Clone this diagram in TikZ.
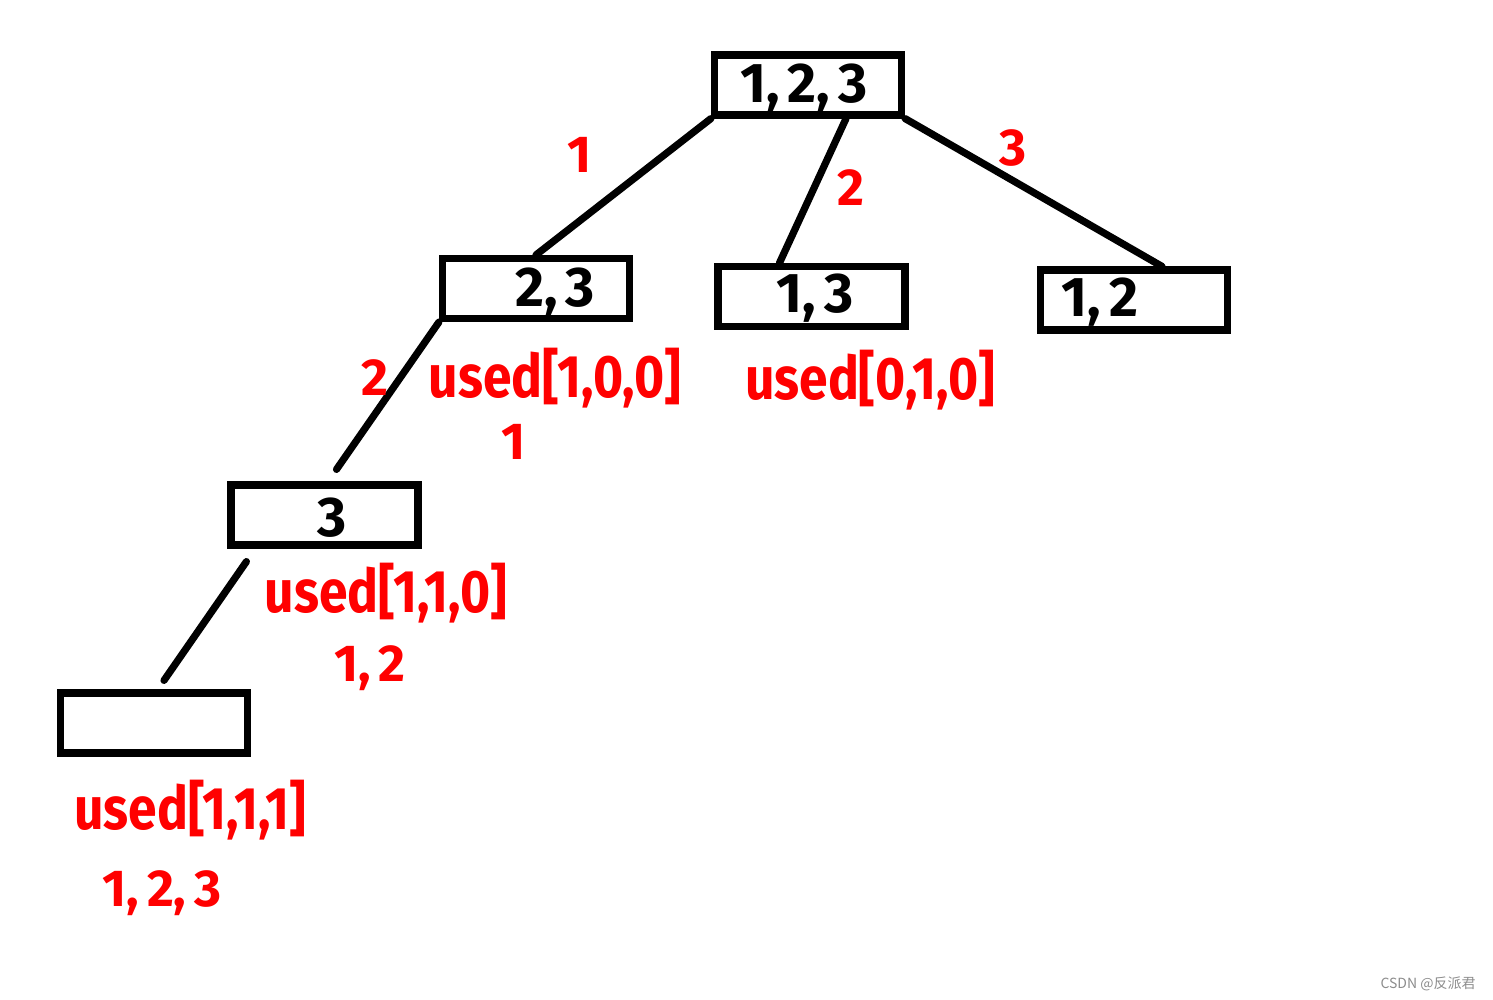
\documentclass[tikz,border=0pt]{standalone}
\usepackage{fontspec}
\setmainfont{Fira Sans}
\newfontfamily\cjk{Noto Sans CJK SC}
\usetikzlibrary{calc}
\tikzset{
  tbox/.style={draw=black, line width=3.6pt, minimum width=93.5pt, minimum height=30pt, inner sep=0pt},
  edge/.style={draw=black, line width=3.6pt, line cap=round},
  btext/.style={font=\fontsize{28}{30}\selectfont\bfseries, text=black, inner sep=0pt},
  rtext/.style={font=\fontsize{30}{32}\selectfont\bfseries, text=red, inner sep=0pt},
  rnum/.style={font=\fontsize{26}{28}\selectfont\bfseries, text=red, inner sep=0pt},
}
\newcommand{\narrow}[1]{\scalebox{0.86}[1]{#1}}
\newcommand{\cm}{,\hspace{4pt}}
\begin{document}
\begin{tikzpicture}[x=0.5pt,y=-0.5pt]
\useasboundingbox (0,0) rectangle (1493,1000);
% boxes
\node[tbox] (root) at (808,85) {};
\node[tbox] (A) at (536,288.5) {};
\node[tbox] (B) at (811.5,296.5) {};
\node[tbox] (C) at (1134,300) {};
\node[tbox] (D) at (324.5,515) {};
\node[tbox] (E) at (154,723) {};
% box texts
\node[btext] (troot) at (804,88) {1\cm2\cm3};
\node[btext] (tA) at (555,292) {2\cm3};
\node[btext] (tB) at (815,298) {1\cm3};
\node[btext] (tC) at (1100,302) {1\cm2};
\node[btext] (tD) at (332,518) {3};
% edges
\draw[edge] (root.south west) -- (A.north);
\draw[edge] ($(root.south)+(38,0)$) -- ($(B.north)+(-32,0)$);
\draw[edge] (root.south east) -- ($(C.north)+(28,0)$);
\draw[edge] (A.south west) -- ($(D.north)+(12,-12)$);
\draw[edge] ($(D.south west)+(19,13)$) -- ($(E.north)+(10,-9)$);
% red labels
\node[rnum] (l1) at (580,155) {1};
\node[rnum] (l2) at (851,188) {2};
\node[rnum] (l3) at (1013,148) {3};
\node[rnum] (l4) at (375,378) {2};
\node[rtext] (uA) at (555,378) {\narrow{used[1,0,0]}};
\node[rnum] (pA) at (514,442) {1};
\node[rtext] (uB) at (870,380) {\narrow{used[0,1,0]}};
\node[rtext] (uD) at (386,593) {\narrow{used[1,1,0]}};
\node[rnum] (pD) at (370,668) {1\cm2};
\node[rtext] (uE) at (190,810) {\narrow{used[1,1,1]}};
\node[rnum] (pE) at (162,893) {1\cm2\cm3};
% watermark
\node[font=\cjk\fontsize{7}{8}\selectfont, text=black!45, inner sep=0pt] (wm) at (1428,984) {CSDN @反派君};
\end{tikzpicture}
\end{document}
